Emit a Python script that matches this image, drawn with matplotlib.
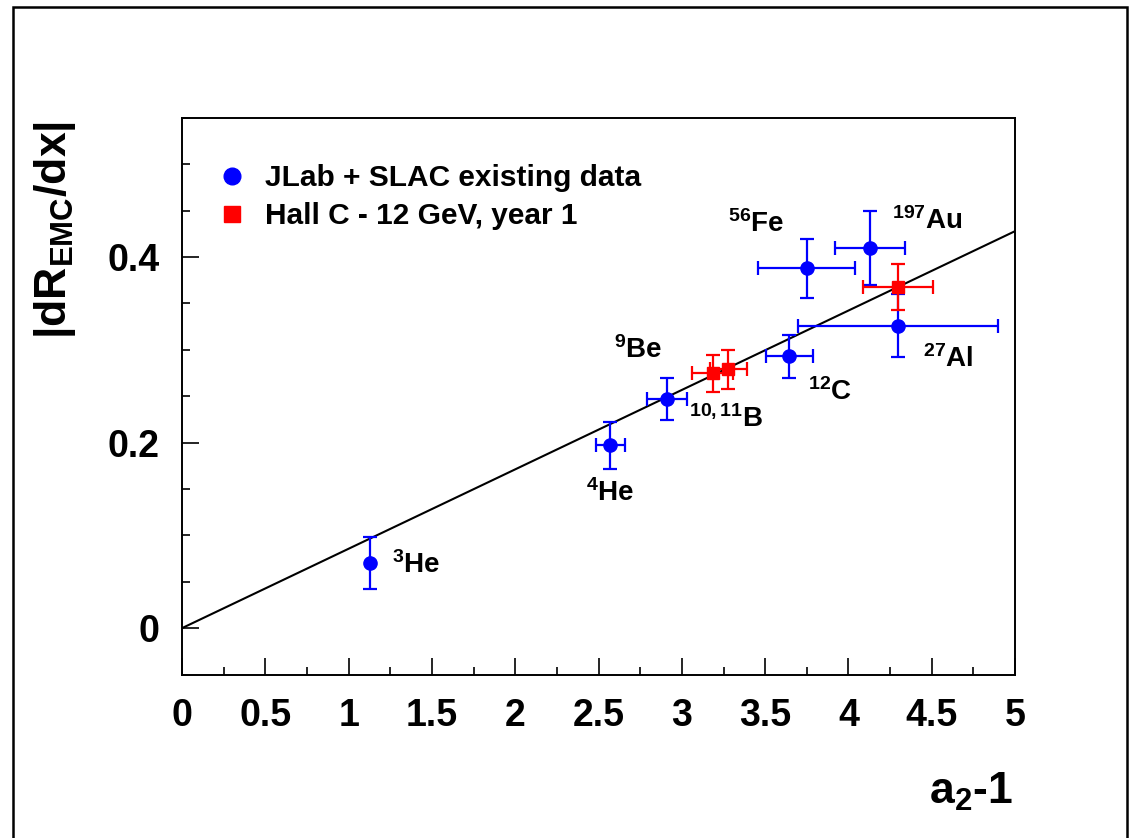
import matplotlib
matplotlib.use("Agg")
import matplotlib.pyplot as plt
from matplotlib.lines import Line2D
from matplotlib.patches import Rectangle
from matplotlib.ticker import MultipleLocator

plt.rcParams['font.family'] = ['Liberation Sans', 'DejaVu Sans']
plt.rcParams['font.weight'] = 'bold'
plt.rcParams['mathtext.fontset'] = 'custom'
plt.rcParams['mathtext.rm'] = 'Liberation Sans:bold'
plt.rcParams['mathtext.bf'] = 'Liberation Sans:bold'
plt.rcParams['mathtext.it'] = 'Liberation Sans:bold'
plt.rcParams['mathtext.default'] = 'bf'

# existing JLab + SLAC points: 3He, 4He, 9Be, 12C, 56Fe, 197Au, 27Al
x_exist = [1.13, 2.57, 2.91, 3.645, 3.75, 4.13, 4.30]
y_exist = [0.070, 0.197, 0.247, 0.293, 0.388, 0.410, 0.326]
xerr_exist = [0.0, 0.088, 0.12, 0.14, 0.29, 0.21, 0.60]
yerr_exist = [0.028, 0.025, 0.0225, 0.023, 0.032, 0.040, 0.034]

# Hall C projection (10B, 11B, 197Au)
x_hallc = [3.185, 3.28, 4.30]
y_hallc = [0.275, 0.279, 0.368]
xerr_hallc = [0.125, 0.11, 0.21]
yerr_hallc = [0.020, 0.021, 0.025]

# straight-line fit through the origin
fit_x = [0.0, 5.0]
fit_y = [0.0, 0.428]

nuclei = [r'$^{3}$He', r'$^{4}$He', r'$^{9}$Be', r'$^{10,11}$B', r'$^{12}$C',
          r'$^{56}$Fe', r'$^{197}$Au', r'$^{27}$Al']
nuc_x = [1.26, 2.425, 2.59, 3.04, 3.76, 3.28, 4.26, 4.45]
nuc_y = [0.068, 0.146, 0.300, 0.225, 0.254, 0.436, 0.439, 0.290]

fig = plt.figure(figsize=(11.32, 8.38), dpi=100)
ax = fig.add_axes([0.1608, 0.1951, 0.7359, 0.6641])

ax.plot(fit_x, fit_y, color='black', lw=1.5, zorder=2)
ax.errorbar(x_exist, y_exist, xerr=xerr_exist, yerr=yerr_exist, fmt='o',
            color='#0000ff', ms=9.5, elinewidth=1.6, capsize=5, capthick=1.6, zorder=3)
ax.errorbar(x_hallc, y_hallc, xerr=xerr_hallc, yerr=yerr_hallc, fmt='s',
            color='#ff0000', ms=8, elinewidth=1.6, capsize=5, capthick=1.6, zorder=4)

for lab, tx, ty in zip(nuclei, nuc_x, nuc_y):
    ax.text(tx, ty, lab, fontsize=20, fontweight='bold', ha='left', va='center')

ax.set_xlim(0, 5)
ax.set_ylim(-0.05, 0.55)
ax.xaxis.set_major_locator(MultipleLocator(0.5))
ax.xaxis.set_minor_locator(MultipleLocator(0.25))
ax.yaxis.set_major_locator(MultipleLocator(0.2))
ax.yaxis.set_minor_locator(MultipleLocator(0.05))
ax.xaxis.set_major_formatter(plt.FuncFormatter(lambda v, p: f'{v:g}'))
ax.yaxis.set_major_formatter(plt.FuncFormatter(lambda v, p: f'{v:g}'))
ax.tick_params(which='both', direction='in', top=False, right=False, width=1.2)
ax.tick_params(which='major', length=12, labelsize=27, pad=17)
ax.tick_params(axis='y', which='major', pad=16)
ax.tick_params(which='minor', length=6)
for lbl in ax.get_xticklabels() + ax.get_yticklabels():
    lbl.set_fontweight('bold')
for sp in ax.spines.values():
    sp.set_linewidth(1.4)

handles = [Line2D([], [], ls='none', marker='o', color='#0000ff', ms=12),
           Line2D([], [], ls='none', marker='s', color='#ff0000', ms=11)]
ax.legend(handles, ['JLab + SLAC existing data', 'Hall C - 12 GeV, year 1'],
          loc='upper left', bbox_to_anchor=(0.042, 0.917), frameon=False,
          prop={'size': 21.5, 'weight': 'bold'}, handlelength=1.0,
          handletextpad=0.6, labelspacing=0.33, borderpad=0, borderaxespad=0)

fig.text(55 / 1132, 1 - 230 / 838, r'|dR$_{EMC}$/dx|', rotation=90,
         fontsize=32, fontweight='bold', ha='center', va='center')
fig.text(971 / 1132, 1 - 792 / 838, r'a$_{2}$-1', fontsize=32,
         fontweight='bold', ha='center', va='center')

# outer frame around the canvas
fig.patches.append(Rectangle((13 / 1132, -0.02), (1127 - 13) / 1132,
                             1.02 - 7 / 838, transform=fig.transFigure,
                             fill=False, lw=1.8, edgecolor='black'))

fig.savefig('out.png', dpi=100)
